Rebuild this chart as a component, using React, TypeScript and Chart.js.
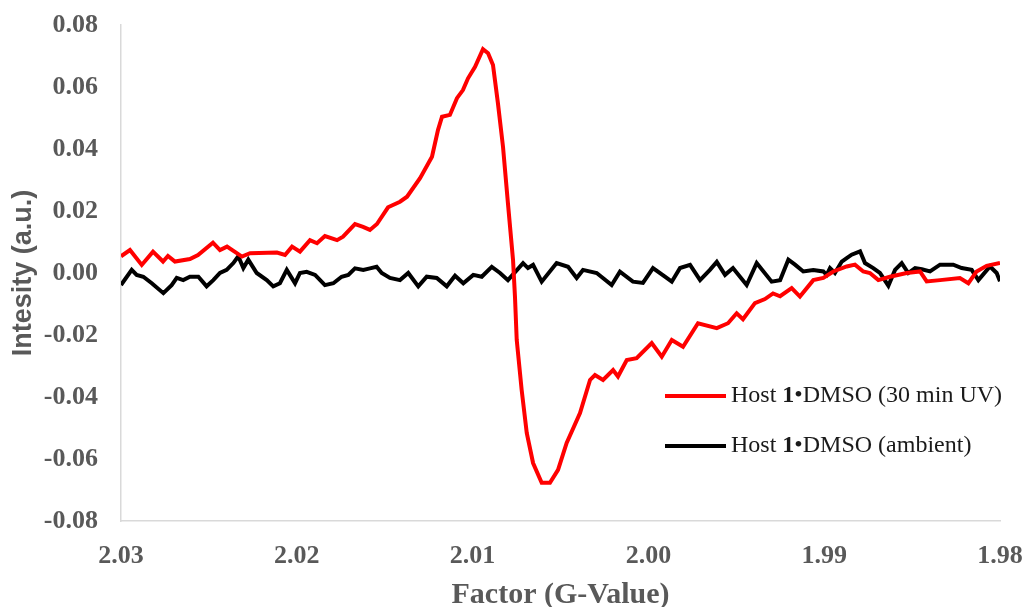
import React, { useEffect, useRef } from "react";
import { Chart, registerables } from "chart.js";

Chart.register(...registerables);

// Red series: Host 1•DMSO (30 min UV)
const redG = [2.0300, 2.02949, 2.02882, 2.02818, 2.02761, 2.02733, 2.02693, 2.02608, 2.02562, 2.02477, 2.02437, 2.02397, 2.02312, 2.02266, 2.02113, 2.02067, 2.02027, 2.01982, 2.01925, 2.01885, 2.0184, 2.01771, 2.01737, 2.01669, 2.01623, 2.01584, 2.01544, 2.01481, 2.01413, 2.01373, 2.01299, 2.01231, 2.01197, 2.01174, 2.01129, 2.01089, 2.01055, 2.01026, 2.00986, 2.00941, 2.00912, 2.00884, 2.00856, 2.00827, 2.00799, 2.0077, 2.00759, 2.00749, 2.00721, 2.00692, 2.00656, 2.00607, 2.0056, 2.00514, 2.00465, 2.00389, 2.00332, 2.00304, 2.00258, 2.00201, 2.00173, 2.00123, 2.00067, 1.99981, 1.99924, 1.99867, 1.99803, 1.99718, 1.99611, 1.99547, 1.99498, 1.99462, 1.99394, 1.99337, 1.99291, 1.99251, 1.99185, 1.99138, 1.99062, 1.99005, 1.98948, 1.98872, 1.98825, 1.98778, 1.9874, 1.98692, 1.98626, 1.98531, 1.98455, 1.98417, 1.98341, 1.98228, 1.9818, 1.98133, 1.98076, 1.98];
const redI = [0.0054, 0.0074, 0.0026, 0.0069, 0.0037, 0.0055, 0.0037, 0.0045, 0.0058, 0.0098, 0.0074, 0.0085, 0.0053, 0.0064, 0.0066, 0.0058, 0.0085, 0.0069, 0.0106, 0.0096, 0.0119, 0.0106, 0.0117, 0.0158, 0.0149, 0.0139, 0.0158, 0.0212, 0.0230, 0.0246, 0.0306, 0.0375, 0.0461, 0.0504, 0.0510, 0.0564, 0.0590, 0.0628, 0.0665, 0.0722, 0.0709, 0.0671, 0.0548, 0.0407, 0.0225, 0.0042, -0.0076, -0.0216, -0.0377, -0.0516, -0.0613, -0.0677, -0.0677, -0.0635, -0.0548, -0.0452, -0.0345, -0.0329, -0.0345, -0.0313, -0.0334, -0.0281, -0.0275, -0.0226, -0.0270, -0.0216, -0.0238, -0.0162, -0.0178, -0.0162, -0.0130, -0.0149, -0.0097, -0.0084, -0.0066, -0.0075, -0.0049, -0.0076, -0.0023, -0.0016, 0.0005, 0.0021, 0.0027, 0.0005, 0.0000, -0.0023, -0.0012, 0.0000, 0.0005, -0.0027, -0.0023, -0.0016, -0.0033, 0.0005, 0.0023, 0.0032];

// Black series: Host 1•DMSO (ambient)
const blackG = [2.0300, 2.02939, 2.02911, 2.02873, 2.02825, 2.02759, 2.02712, 2.02683, 2.02646, 2.02608, 2.0256, 2.02513, 2.02475, 2.02437, 2.02399, 2.02361, 2.02333, 2.02304, 2.02276, 2.02228, 2.02171, 2.02134, 2.02096, 2.02057, 2.0201, 2.01982, 2.01944, 2.01896, 2.0184, 2.01792, 2.01745, 2.01707, 2.01669, 2.01622, 2.01584, 2.01546, 2.01517, 2.0147, 2.01413, 2.01366, 2.01309, 2.01261, 2.01204, 2.01147, 2.011, 2.01053, 2.00996, 2.00948, 2.00891, 2.00844, 2.00799, 2.00713, 2.00685, 2.00656, 2.00607, 2.00522, 2.00457, 2.00408, 2.00372, 2.00294, 2.00209, 2.00162, 2.00088, 2.00031, 1.99974, 1.99906, 1.99867, 1.9982, 1.99763, 1.99706, 1.9965, 1.99611, 1.99564, 1.99519, 1.99441, 1.99384, 1.99299, 1.99251, 1.99204, 1.99166, 1.99119, 1.99062, 1.99005, 1.98986, 1.98967, 1.98939, 1.989, 1.98872, 1.98844, 1.98796, 1.98768, 1.98721, 1.98683, 1.98635, 1.98597, 1.98559, 1.98522, 1.98483, 1.98445, 1.98398, 1.98341, 1.98266, 1.98218, 1.98161, 1.98123, 1.98057, 1.98019, 1.98];
const blackI = [-0.0039, 0.0010, -0.0006, -0.0012, -0.0033, -0.0065, -0.0039, -0.0016, -0.0023, -0.0012, -0.0012, -0.0043, -0.0023, 0.0000, 0.0010, 0.0032, 0.0054, 0.0016, 0.0043, 0.0000, -0.0023, -0.0043, -0.0033, 0.0010, -0.0033, 0.0000, 0.0004, -0.0006, -0.0039, -0.0033, -0.0012, -0.0006, 0.0015, 0.0010, 0.0015, 0.0020, 0.0000, -0.0016, -0.0023, 0.0000, -0.0043, -0.0012, -0.0016, -0.0043, -0.0009, -0.0033, -0.0006, -0.0012, 0.0020, 0.0000, -0.0023, 0.0032, 0.0016, 0.0026, -0.0028, 0.0032, 0.0020, -0.0016, 0.0010, 0.0000, -0.0039, 0.0004, -0.0028, -0.0032, 0.0016, -0.0012, -0.0028, 0.0016, 0.0026, -0.0023, 0.0010, 0.0036, -0.0006, 0.0016, -0.0039, 0.0032, -0.0028, -0.0023, 0.0043, 0.0027, 0.0005, 0.0010, 0.0005, -0.0006, 0.0016, 0.0000, 0.0037, 0.0048, 0.0059, 0.0070, 0.0032, 0.0016, 0.0000, -0.0041, 0.0010, 0.0032, 0.0000, 0.0016, 0.0012, 0.0005, 0.0027, 0.0027, 0.0016, 0.0010, -0.0023, 0.0021, 0.0000, -0.0027];

// Legend label parts: [text, bold]
const redLabel: [string, boolean][] = [["Host ", false], ["1", true], ["•DMSO (30 min UV)", false]];
const blackLabel: [string, boolean][] = [["Host ", false], ["1", true], ["•DMSO (ambient)", false]];

const xMin = 1.98;
const xMax = 2.03;
const xStep = 0.01;
const yMin = -0.08;
const yMax = 0.08;
const yStep = 0.02;

const SERIF = "'Liberation Serif', 'Times New Roman', serif";
const SANS = "'Liberation Sans', Arial, sans-serif";

const legendPlugin = {
  id: "customLegend",
  afterDraw(chart: any) {
    const ctx = chart.ctx;
    const items = [
      { parts: redLabel, color: chart.data.datasets[0].borderColor, y: 396 },
      { parts: blackLabel, color: chart.data.datasets[1].borderColor, y: 446 },
    ];
    ctx.save();
    for (const it of items) {
      ctx.strokeStyle = it.color;
      ctx.lineWidth = 4;
      ctx.lineCap = "butt";
      ctx.beginPath();
      ctx.moveTo(665, it.y);
      ctx.lineTo(726, it.y);
      ctx.stroke();
      let x = 731;
      ctx.fillStyle = "#1a1a1a";
      ctx.textBaseline = "middle";
      ctx.textAlign = "left";
      for (const [t, b] of it.parts) {
        ctx.font = `${b ? "bold " : ""}24px ${SERIF}`;
        ctx.fillText(t, x, it.y);
        x += ctx.measureText(t).width;
      }
    }
    ctx.restore();
  },
};

const zeroPad = (s: any) => {
  s.paddingTop = 0;
  s.paddingBottom = 0;
  s.paddingLeft = 0;
  s.paddingRight = 0;
};

export default function App() {
  const ref = useRef<HTMLCanvasElement>(null);
  useEffect(() => {
    document.body.style.margin = "0";
    const chart = new Chart(ref.current as HTMLCanvasElement, {
      type: "line",
      data: {
        datasets: [
          {
            label: "Host 1•DMSO (30 min UV)",
            data: redG.map((g, i) => ({ x: g, y: redI[i] })),
            borderColor: "#ff0000",
            borderWidth: 4,
            pointRadius: 0,
            tension: 0,
            fill: false,
          },
          {
            label: "Host 1•DMSO (ambient)",
            data: blackG.map((g, i) => ({ x: g, y: blackI[i] })),
            borderColor: "#000000",
            borderWidth: 4,
            pointRadius: 0,
            tension: 0,
            fill: false,
          },
        ],
      },
      options: {
        responsive: false,
        animation: false,
        layout: { padding: { left: 0, top: 25, right: 26, bottom: 0 } },
        plugins: { legend: { display: false }, tooltip: { enabled: false } },
        scales: {
          x: {
            type: "linear",
            reverse: true,
            min: xMin,
            max: xMax,
            afterFit: (s: any) => { s.height = 86; zeroPad(s); },
            grid: { display: false, drawTicks: false },
            border: { display: true, color: "#d9d9d9", width: 1.5 },
            ticks: {
              stepSize: xStep,
              padding: 20,
              color: "#595959",
              font: { family: SERIF, size: 26, weight: "bold" },
              callback: (v: any) => Number(v).toFixed(2),
            },
            title: {
              display: true,
              text: "Factor (G-Value)",
              color: "#595959",
              padding: 0,
              font: { family: SERIF, size: 30, weight: "bold", lineHeight: 0.8 },
            },
          },
          y: {
            type: "linear",
            min: yMin,
            max: yMax,
            afterFit: (s: any) => { s.width = 121; zeroPad(s); },
            grid: { display: false, drawTicks: false },
            border: { display: true, color: "#d9d9d9", width: 1.5 },
            ticks: {
              stepSize: yStep,
              padding: 23,
              color: "#595959",
              font: { family: SERIF, size: 26, weight: "bold" },
              callback: (v: any) => Number(v).toFixed(2),
            },
            title: {
              display: true,
              text: "Intesity (a.u.)",
              color: "#595959",
              padding: { top: 10, bottom: 0 },
              font: { family: SANS, size: 27, weight: "bold", lineHeight: 1 },
            },
          },
        },
      },
      plugins: [legendPlugin],
    } as any);
    return () => chart.destroy();
  }, []);
  return (
    <div style={{ position: "absolute", left: 0, top: 0, width: 1026, height: 607, background: "#fff" }}>
      <canvas ref={ref} width={1026} height={607} />
    </div>
  );
}
